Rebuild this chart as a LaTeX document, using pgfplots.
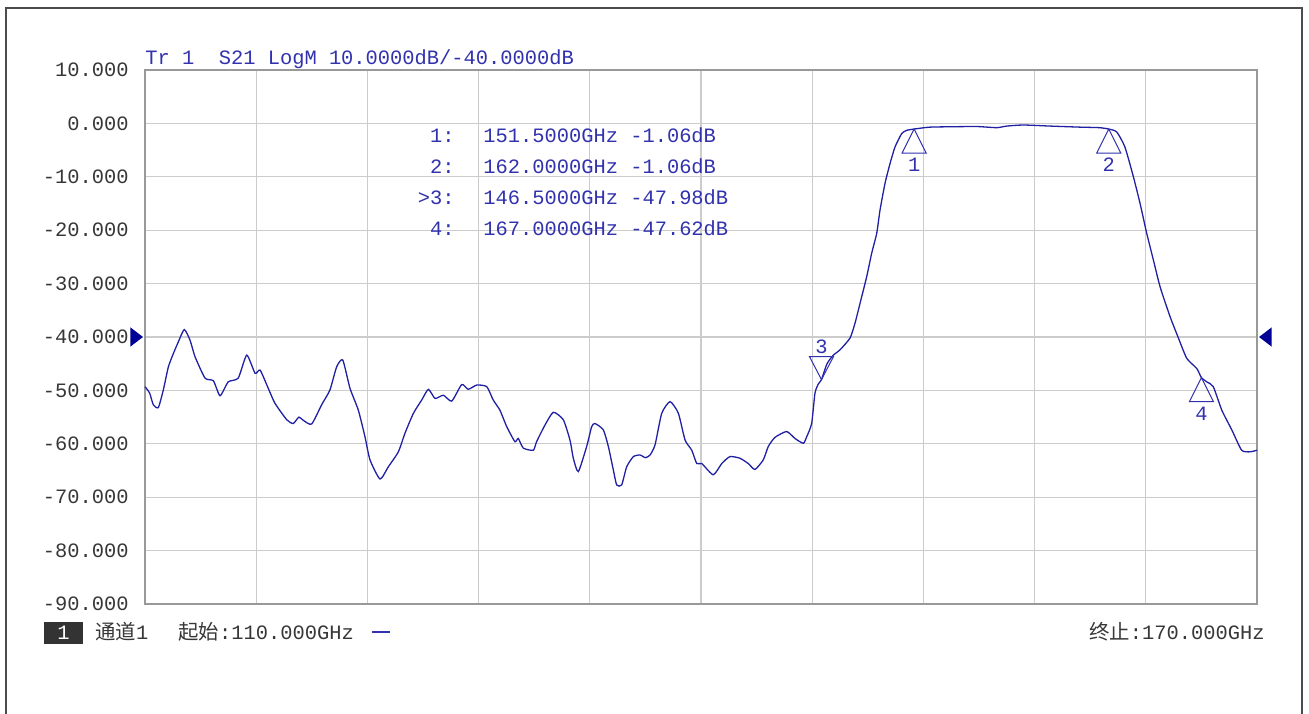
\documentclass[border=0pt]{standalone}
\usepackage{fontspec}
\usepackage{pgfplots}
\pgfplotsset{compat=1.18}
\usepackage{pgfplotstable}
\newfontfamily\monof{Liberation Mono}
\newfontfamily\cjk{Noto Sans CJK SC}
\setmainfont{Liberation Mono}
\definecolor{trace}{RGB}{32,32,165}
\definecolor{tblue}{RGB}{50,50,175}
\definecolor{refb}{RGB}{0,0,150}
\definecolor{lbl}{RGB}{55,55,55}

\pgfdeclareplotmark{mup}{%
  \pgfpathmoveto{\pgfpoint{0pt}{0pt}}%
  \pgfpathlineto{\pgfpoint{-6pt}{-12pt}}%
  \pgfpathlineto{\pgfpoint{6pt}{-12pt}}%
  \pgfpathclose\pgfusepathqstroke}
\pgfdeclareplotmark{mdown}{%
  \pgfpathmoveto{\pgfpoint{0pt}{0pt}}%
  \pgfpathlineto{\pgfpoint{-6pt}{11.5pt}}%
  \pgfpathlineto{\pgfpoint{6pt}{11.5pt}}%
  \pgfpathclose\pgfusepathqstroke}
\pgfdeclareplotmark{refL}{%
  \pgfpathmoveto{\pgfpoint{-1pt}{0pt}}%
  \pgfpathlineto{\pgfpoint{-7.3pt}{4.8pt}}%
  \pgfpathlineto{\pgfpoint{-7.3pt}{-4.8pt}}%
  \pgfpathclose\pgfusepathqfill}
\pgfdeclareplotmark{refR}{%
  \pgfpathmoveto{\pgfpoint{1pt}{0pt}}%
  \pgfpathlineto{\pgfpoint{7.3pt}{4.8pt}}%
  \pgfpathlineto{\pgfpoint{7.3pt}{-4.8pt}}%
  \pgfpathclose\pgfusepathqfill}

\pgfplotstableread{
f v
110.00 -49.3
110.25 -50.5
110.45 -52.7
110.72 -53.2
110.99 -49.9
111.26 -45.6
111.53 -43.1
111.80 -40.9
112.12 -38.6
112.43 -40.6
112.70 -43.7
113.24 -47.7
113.69 -48.2
114.05 -51.0
114.49 -48.4
115.03 -47.7
115.49 -43.4
115.94 -46.8
116.21 -46.2
116.65 -49.6
117.01 -52.4
117.65 -55.5
118.00 -56.2
118.30 -55.0
118.54 -55.6
118.99 -56.3
119.53 -52.7
119.98 -49.9
120.34 -45.6
120.67 -44.3
121.06 -49.6
121.51 -53.7
121.87 -58.7
122.14 -63.0
122.68 -66.6
123.13 -64.3
123.67 -61.5
124.03 -58.0
124.48 -54.3
124.93 -51.8
125.29 -49.8
125.65 -51.5
126.10 -50.9
126.55 -52.0
127.09 -48.9
127.44 -49.8
127.90 -49.0
128.44 -49.3
128.79 -51.8
129.15 -53.7
129.52 -56.8
129.96 -59.6
130.14 -59.0
130.41 -60.8
130.95 -61.2
131.13 -59.6
131.58 -56.5
132.03 -54.1
132.57 -55.5
132.93 -59.3
133.11 -62.7
133.38 -65.2
133.83 -60.5
134.10 -56.8
134.28 -56.2
134.73 -57.4
135.00 -60.5
135.27 -64.9
135.45 -67.7
135.72 -67.7
135.99 -64.3
136.35 -62.4
136.71 -62.1
137.00 -62.6
137.25 -62.1
137.52 -60.2
137.88 -54.3
138.33 -52.1
138.78 -54.3
139.14 -59.3
139.50 -61.2
139.77 -63.7
140.04 -63.7
140.66 -65.8
141.12 -63.7
141.56 -62.4
142.10 -62.7
142.55 -63.7
142.91 -64.8
143.36 -63.0
143.63 -60.5
143.99 -58.8
144.62 -57.7
145.07 -59.0
145.52 -59.9
145.70 -58.7
145.97 -56.2
146.15 -50.5
146.33 -48.8
146.50 -47.98
146.80 -45.0
147.14 -43.4
147.50 -42.4
148.04 -40.2
148.31 -37.4
148.58 -33.7
148.94 -28.7
149.21 -24.3
149.48 -20.6
149.66 -16.2
149.93 -11.2
150.20 -7.5
150.47 -4.4
150.83 -1.9
151.10 -1.3
151.50 -1.06
152.36 -0.7
154.15 -0.6
155.00 -0.6
155.96 -0.8
156.50 -0.5
157.39 -0.3
158.83 -0.5
160.45 -0.7
161.50 -0.8
162.00 -1.06
162.43 -1.6
162.87 -4.4
163.33 -10.0
163.69 -15.0
164.05 -20.6
164.41 -25.6
164.77 -30.6
165.31 -36.2
165.76 -40.2
166.21 -44.0
166.75 -45.9
167.00 -47.62
167.29 -48.4
167.64 -49.3
168.10 -53.7
168.64 -57.4
169.17 -61.2
169.62 -61.5
170.00 -61.2
}\tracedata

\begin{document}
\fontsize{10.2}{12}\selectfont
\begin{tikzpicture}
\useasboundingbox (0,0) rectangle (654.5pt,356.5pt);
\fill[white] (0,0) rectangle (654.5pt,356.5pt);
\draw[black!70, line width=0.7pt] (3pt,-2pt) -- (3pt,352.5pt) -- (651pt,352.5pt) -- (651pt,-2pt);
\begin{axis}[
  at={(72.5pt,54.5pt)}, anchor=south west,
  scale only axis, width=556pt, height=267pt,
  xmin=110, xmax=170, ymin=-90, ymax=10,
  xtick={110,116,...,170}, xticklabels={},
  ytick={-90,-80,...,10},
  yticklabels={-90.000,-80.000,-70.000,-60.000,-50.000,-40.000,-30.000,-20.000,-10.000,0.000,10.000},
  yticklabel style={font=\fontsize{10.2}{12}\monof, text=lbl, inner sep=0pt, xshift=-8pt},
  major tick length=0pt,
  grid=major,
  grid style={color=black!20, line width=0.6pt},
  axis line style={color=black!40, line width=1.1pt},
  clip=false,
]
\addplot[color=trace, line width=0.65pt, mark=none, smooth, tension=0.35] table[x=f, y=v] {\tracedata};
\addplot[only marks, mark=mup, color=tblue, mark options={line width=0.5pt},
  nodes near coords={1}, every node near coord/.append style={anchor=center, yshift=-18pt, text=tblue, font=\fontsize{10.2}{12}\monof}]
  coordinates {(151.5,-1.06)};
\addplot[only marks, mark=mup, color=tblue, mark options={line width=0.5pt},
  nodes near coords={2}, every node near coord/.append style={anchor=center, yshift=-18pt, text=tblue, font=\fontsize{10.2}{12}\monof}]
  coordinates {(162,-1.06)};
\addplot[only marks, mark=mdown, color=tblue, mark options={line width=0.5pt},
  nodes near coords={3}, every node near coord/.append style={anchor=center, yshift=16.5pt, text=tblue, font=\fontsize{10.2}{12}\monof}]
  coordinates {(146.5,-47.98)};
\addplot[only marks, mark=mup, color=tblue, mark options={line width=0.5pt},
  nodes near coords={4}, every node near coord/.append style={anchor=center, yshift=-18pt, text=tblue, font=\fontsize{10.2}{12}\monof}]
  coordinates {(167,-47.62)};
\addplot[only marks, mark=refL, color=refb] coordinates {(110,-40)};
\addplot[only marks, mark=refR, color=refb] coordinates {(170,-40)};
\end{axis}
% title
\node[anchor=base west, inner sep=0pt, text=tblue] at (72.5pt,324pt) {Tr 1\ \ S21 LogM 10.0000dB/-40.0000dB};
% marker table
\begin{scope}[every node/.style={inner sep=0pt, text=tblue}]
\node[anchor=base east] at (227.5pt,285pt) {1:};
\node[anchor=base east] at (227.5pt,269.5pt) {2:};
\node[anchor=base east] at (227.5pt,254pt) {>3:};
\node[anchor=base east] at (227.5pt,238.75pt) {4:};
\node[anchor=base west] at (241.5pt,285pt) {151.5000GHz -1.06dB};
\node[anchor=base west] at (241.5pt,269.5pt) {162.0000GHz -1.06dB};
\node[anchor=base west] at (241.5pt,254pt) {146.5000GHz -47.98dB};
\node[anchor=base west] at (241.5pt,238.75pt) {167.0000GHz -47.62dB};
\end{scope}
% bottom status line
\fill[black!80] (22pt,34.5pt) rectangle (41.5pt,45.5pt);
\node[text=white, inner sep=0pt] at (31.75pt,40pt) {1};
\node[anchor=west, inner sep=0pt, text=lbl] at (47.5pt,40.5pt) {{\cjk 通道}1};
\node[anchor=west, inner sep=0pt, text=lbl] at (89pt,40.5pt) {{\cjk 起始}:110.000GHz};
\draw[tblue, line width=0.6pt] (186pt,40.5pt) -- (195pt,40.5pt);
\node[anchor=east, inner sep=0pt, text=lbl] at (632.5pt,40.5pt) {{\cjk 终止}:170.000GHz};
\end{tikzpicture}
\end{document}
